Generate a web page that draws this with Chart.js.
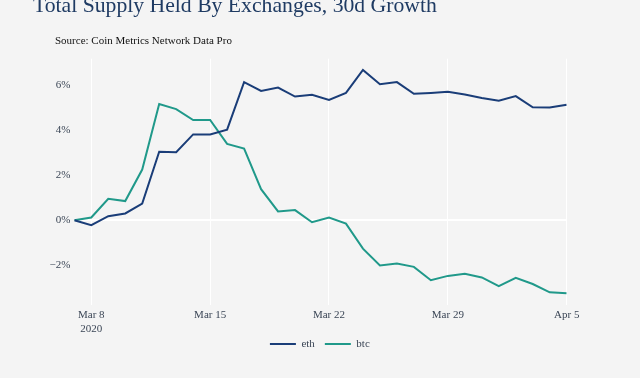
<!DOCTYPE html>
<html><head><meta charset="utf-8">
<script src="https://cdn.jsdelivr.net/npm/chart.js@4.4.1/dist/chart.umd.min.js"></script>
<style>
html,body{margin:0;padding:0;background:#f4f4f4;width:640px;height:378px;overflow:hidden;position:relative;}
#title{position:absolute;left:33px;top:-4.6px;font:21.7px/20px "Liberation Serif",serif;color:#1f3b63;white-space:nowrap;}
#source{position:absolute;left:55px;top:34.8px;font:11px/11px "Liberation Serif",serif;color:#111;white-space:nowrap;}
#wrap{position:absolute;left:0;top:0;width:640px;height:378px;}
</style></head>
<body>
<div id="wrap"><canvas id="c" width="640" height="378"></canvas></div>
<div id="title">Total Supply Held By Exchanges, 30d Growth</div>
<div id="source">Source: Coin Metrics Network Data Pro</div>
<script>
// Days Mar 7 .. Apr 5, 2020 (index 0 = Mar 7)
const categories = ["Mar 7","Mar 8","Mar 9","Mar 10","Mar 11","Mar 12","Mar 13","Mar 14","Mar 15","Mar 16","Mar 17","Mar 18","Mar 19","Mar 20","Mar 21","Mar 22","Mar 23","Mar 24","Mar 25","Mar 26","Mar 27","Mar 28","Mar 29","Mar 30","Mar 31","Apr 1","Apr 2","Apr 3","Apr 4","Apr 5"];
const eth = [0,-0.22,0.18,0.3,0.74,3.04,3.02,3.81,3.81,4.02,6.13,5.74,5.89,5.49,5.57,5.34,5.65,6.67,6.04,6.13,5.61,5.65,5.7,5.58,5.43,5.3,5.51,5.01,5.0,5.13];
const btc = [0,0.12,0.95,0.85,2.25,5.16,4.93,4.45,4.45,3.39,3.18,1.38,0.39,0.45,-0.09,0.12,-0.15,-1.26,-2.01,-1.92,-2.07,-2.66,-2.47,-2.38,-2.54,-2.93,-2.56,-2.83,-3.2,-3.24];
const xTickIdx = [1,8,15,22,29];
const xTickLabels = [["Mar 8","2020"],"Mar 15","Mar 22","Mar 29","Apr 5"];
const yTicks = [-2,0,2,4,6];

const ethColor = "#1a3d78";
const btcColor = "#20998a";
const tickColor = "#3b4656";
const font = {family:"Liberation Serif", size:11, lineHeight:1.3};

new Chart(document.getElementById('c'), {
  type:'line',
  data:{
    datasets:[
      {label:'eth', data:eth.map((v,i)=>({x:i,y:v})), borderColor:ethColor, backgroundColor:ethColor, borderWidth:2, pointRadius:0, tension:0, pointStyle:'line'},
      {label:'btc', data:btc.map((v,i)=>({x:i,y:v})), borderColor:btcColor, backgroundColor:btcColor, borderWidth:2, pointRadius:0, tension:0, pointStyle:'line'}
    ]
  },
  options:{
    responsive:false, animation:false,
    layout:{padding:{top:58.7,right:73.3,bottom:18.45,left:73}},
    plugins:{
      tooltip:{enabled:false},
      legend:{position:'bottom', labels:{usePointStyle:true, pointStyle:'line', pointStyleWidth:26, boxHeight:11, color:tickColor, font:{family:"Liberation Serif", size:11}, padding:10}}
    },
    scales:{
      x:{type:'linear', min:0, max:29,
        afterBuildTicks:(s)=>{s.ticks=xTickIdx.map(v=>({value:v}));},
        afterFit:(s)=>{s.height=24.05; s._computeLabelArea=()=>undefined;},
        ticks:{color:tickColor, font:font, padding:3, maxRotation:0, autoSkip:false,
          callback:(v)=>{const k=xTickIdx.indexOf(v);return k>=0?xTickLabels[k]:'';}},
        grid:{color:'#ffffff', lineWidth:1, drawTicks:false},
        border:{display:false}
      },
      y:{type:'linear', min:-3.74, max:7.17,
        afterBuildTicks:(s)=>{s.ticks=yTicks.map(v=>({value:v}));},
        afterFit:(s)=>{s.width=1.3; s._computeLabelArea=()=>undefined;},
        ticks:{color:tickColor, font:font, padding:4,
          callback:(v)=> (v<0?'\u2212'+Math.abs(v):v)+'%'},
        grid:{color:(c)=>c.tick && c.tick.value===0?'#ffffff':'rgba(255,255,255,0)', lineWidth:(c)=>c.tick && c.tick.value===0?2:1, drawTicks:false},
        border:{display:false}
      }
    }
  }
});
</script>
</body></html>
